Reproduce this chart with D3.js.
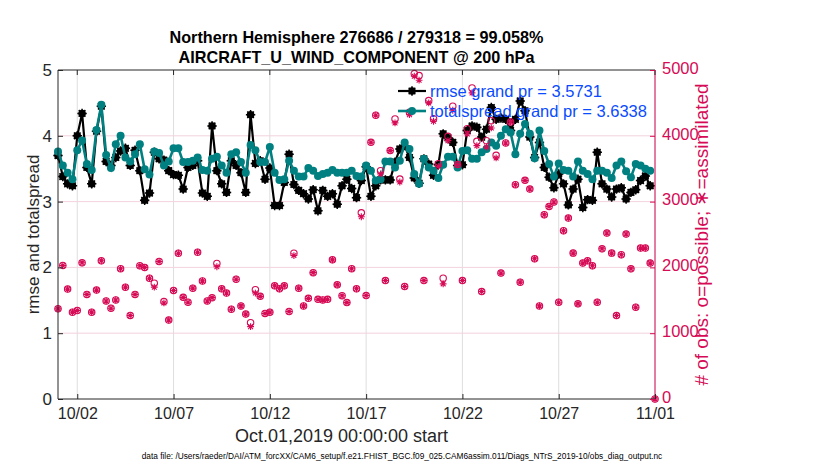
<!DOCTYPE html>
<html>
<head>
<meta charset="utf-8">
<script src="https://cdn.jsdelivr.net/npm/d3@7"></script>
<style>
  body { margin: 0; background: #fff; }
  text { font-family: "Liberation Sans", Arial, Helvetica, sans-serif; }
</style>
</head>
<body>
<div id="wrapper"></div>
<script>
/* global d3 */
// 6-hourly bins starting Oct.01,2019 00Z
const startDate = "2019-10-01T00:00:00Z";

const rmse = [
  3.70, 3.38, 3.27, 3.24, 4.00, 4.34, 3.52, 3.27, 4.07, 4.45, 3.61, 3.55, 3.67, 3.77, 3.81, 3.55,
  3.78, 3.47, 3.02, 3.13, 3.75, 3.65, 3.63, 3.47, 3.41, 3.40, 3.19, 3.52, 3.55, 3.62, 3.13, 3.08,
  4.15, 3.47, 3.27, 3.14, 3.62, 3.55, 3.44, 3.14, 4.32, 3.58, 3.62, 3.34, 3.51, 2.94, 2.94, 3.29,
  3.72, 3.26, 3.17, 3.12, 3.04, 3.18, 2.86, 3.17, 3.08, 3.12, 2.96, 3.24, 3.34, 3.20, 3.06, 3.32,
  3.53, 3.08, 3.24, 3.33, 3.33, 3.33, 3.60, 3.80, 3.85, 3.67, 3.36, 3.28, 3.65, 3.57, 3.40, 3.56,
  4.03, 3.97, 3.90, 3.55, 3.56, 4.08, 4.15, 4.13, 3.98, 4.10, 4.43, 4.25, 4.27, 4.25, 4.08, 4.25,
  4.53, 4.38, 3.98, 3.67, 3.90, 3.52, 3.37, 3.21, 3.42, 3.27, 2.95, 3.19, 3.34, 2.91, 3.03, 3.02,
  3.75, 3.27, 3.19, 3.07, 3.19, 3.21, 3.04, 3.14, 3.18, 3.32, 3.39, 3.24
];

const totalspread = [
  3.76, 3.55, 3.44, 3.34, 3.78, 3.93, 3.57, 3.48, 4.09, 4.47, 3.71, 3.51, 3.87, 4.00, 3.67, 3.61,
  3.72, 3.87, 3.49, 3.41, 3.76, 3.74, 3.55, 3.61, 3.81, 3.81, 3.60, 3.60, 3.62, 3.67, 3.48, 3.47,
  3.65, 3.68, 3.55, 3.44, 3.72, 3.75, 3.60, 3.44, 3.86, 3.78, 3.60, 3.60, 3.83, 3.44, 3.33, 3.34,
  3.62, 3.47, 3.38, 3.38, 3.51, 3.47, 3.39, 3.42, 3.44, 3.48, 3.44, 3.44, 3.44, 3.47, 3.39, 3.38,
  3.55, 3.47, 3.32, 3.34, 3.61, 3.61, 3.52, 3.62, 3.90, 3.80, 3.42, 3.27, 3.65, 3.52, 3.47, 3.36,
  3.56, 3.68, 3.68, 3.52, 3.77, 3.78, 3.65, 3.65, 3.75, 3.80, 3.90, 3.85, 4.00, 4.10, 4.05, 3.72,
  4.03, 4.18, 4.03, 3.66, 4.08, 3.77, 3.57, 3.38, 3.58, 3.48, 3.47, 3.38, 3.61, 3.47, 3.42, 3.34,
  3.47, 3.47, 3.44, 3.36, 3.55, 3.61, 3.46, 3.37, 3.57, 3.55, 3.50, 3.47
];

const obsPossible = [
  1370, 2030, 1670, 1320, 1345, 2070, 1590, 1320, 1655, 2100, 1490, 1380, 1505, 1980, 1700, 1270,
  1590, 2025, 2000, 1835, 1760, 2090, 1480, 1200, 1650, 2215, 1545, 1470, 1685, 2230, 1795, 1490,
  1540, 2060, 1675, 1610, 1365, 1820, 1415, 1290, 1160, 1660, 1560, 1300, 1320, 1720, 1675, 1720,
  1330, 2215, 1685, 1415, 1530, 1920, 1515, 1505, 1515, 2115, 1735, 1570, 1465, 1980, 1675, 2830,
  1572, 3901, 4312, 3470, 1800, 3775, 4257, 3343, 1710, 4358, 4946, 4915, 1800, 4535, 4261, 3576,
  1836, 3992, 4449, 3562, 1800, 4109, 4728, 3916, 1633, 3926, 4230, 3703, 1913, 3891, 4211, 3257,
  1776, 3323, 3191, 2131, 1415, 2800, 2927, 2994, 1471, 2557, 2750, 2217, 1446, 2065, 2100, 2024,
  1471, 2283, 2522, 2217, 1268, 2192, 2507, 1979, 1395, 2293, 2293, 2065, 0
];

const obsAssimilated = [
  1370, 2030, 1670, 1320, 1345, 2070, 1590, 1320, 1655, 2100, 1490, 1380, 1505, 1980, 1700, 1270,
  1590, 2025, 2000, 1835, 1700, 2090, 1460, 1200, 1650, 2215, 1545, 1470, 1685, 2230, 1795, 1490,
  1540, 2010, 1675, 1610, 1365, 1820, 1415, 1290, 1100, 1610, 1560, 1300, 1320, 1720, 1675, 1720,
  1330, 2180, 1685, 1415, 1530, 1920, 1515, 1505, 1515, 2115, 1735, 1570, 1465, 1980, 1675, 2770,
  1572, 3901, 4312, 3420, 1800, 3775, 4196, 3298, 1710, 4322, 4906, 4845, 1800, 4500, 4221, 3536,
  1750, 3926, 4388, 3562, 1800, 4028, 4652, 3850, 1633, 3830, 4119, 3663, 1913, 3891, 4211, 3257,
  1776, 3323, 3191, 2131, 1415, 2800, 2927, 2994, 1471, 2557, 2750, 2217, 1446, 2065, 2100, 2024,
  1471, 2283, 2522, 2217, 1268, 2192, 2507, 1979, 1395, 2293, 2293, 2065, 0
];

const xTickDays = ["2019-10-02", "2019-10-07", "2019-10-12", "2019-10-17", "2019-10-22", "2019-10-27", "2019-11-01"];
const xTickLabels = ["10/02", "10/07", "10/12", "10/17", "10/22", "10/27", "11/01"];
const leftTicks = [0, 1, 2, 3, 4, 5];
const rightTicks = [0, 1000, 2000, 3000, 4000, 5000];
const legendLabels = ["rmse grand pr = 3.5731", "totalspread grand pr = 3.6338"];

const titleLines = ["Northern Hemisphere 276686 / 279318 = 99.058%", "AIRCRAFT_U_WIND_COMPONENT @ 200 hPa"];
const dataFileText = "data file: /Users/raeder/DAI/ATM_forcXX/CAM6_setup/f.e21.FHIST_BGC.f09_025.CAM6assim.011/Diags_NTrS_2019-10/obs_diag_output.nc";

const dimensions = {
  width: 830,
  height: 470,
  margin: { top: 70, right: 175, bottom: 71, left: 58 },
};
dimensions.boundedWidth = dimensions.width - dimensions.margin.left - dimensions.margin.right;
dimensions.boundedHeight = dimensions.height - dimensions.margin.top - dimensions.margin.bottom;

const rmseColor = "#000000";
const spreadColor = "#008080";
const obsColor = "#d60a55";
const legendColor = "#0a4bff";
const axisColor = "#262626";

const t0 = new Date(startDate);
const timeAt = (i) => d3.utcHour.offset(t0, 6 * i);

const svg = d3.select("#wrapper")
  .append("svg")
  .attr("width", dimensions.width)
  .attr("height", dimensions.height);

const bounds = svg.append("g")
  .attr("transform", `translate(${dimensions.margin.left},${dimensions.margin.top})`);

const xScale = d3.scaleUtc()
  .domain([t0, new Date("2019-11-01T00:00:00Z")])
  .range([0, dimensions.boundedWidth]);

const yScale = d3.scaleLinear()
  .domain([0, 5])
  .range([dimensions.boundedHeight, 0]);

const yObsScale = d3.scaleLinear()
  .domain([0, 5000])
  .range([dimensions.boundedHeight, 0]);

const xTicks = xTickDays.map((d) => new Date(d + "T00:00:00Z"));

// grid
bounds.append("g")
  .selectAll("line")
  .data(xTicks)
  .join("line")
  .attr("x1", (d) => xScale(d)).attr("x2", (d) => xScale(d))
  .attr("y1", 0).attr("y2", dimensions.boundedHeight)
  .attr("stroke", "#dedede").attr("stroke-width", 1);

bounds.append("g")
  .selectAll("line")
  .data(rightTicks.slice(1, -1))
  .join("line")
  .attr("x1", 0).attr("x2", dimensions.boundedWidth)
  .attr("y1", (d) => yObsScale(d)).attr("y2", (d) => yObsScale(d))
  .attr("stroke", "#f3d3de").attr("stroke-width", 1);

// lines
const lineGen = d3.line()
  .defined((d) => d != null)
  .x((d, i) => xScale(timeAt(i)))
  .y((d) => yScale(d));

const asteriskPath = (r) => {
  const a = r * Math.SQRT1_2;
  return `M${-r},0L${r},0M0,${-r}L0,${r}M${-a},${-a}L${a},${a}M${-a},${a}L${a},${-a}`;
};

const drawRmse = (g, cx, cy) => {
  g.append("circle").attr("cx", cx).attr("cy", cy).attr("r", 3.8).attr("fill", rmseColor);
  g.append("path").attr("d", asteriskPath(4.7))
    .attr("transform", `translate(${cx},${cy})`)
    .attr("stroke", rmseColor).attr("stroke-width", 1.5);
};

bounds.append("path")
  .datum(rmse)
  .attr("d", lineGen)
  .attr("fill", "none")
  .attr("stroke", rmseColor)
  .attr("stroke-width", 2.2);

const rmseMarks = bounds.append("g");
rmse.forEach((d, i) => drawRmse(rmseMarks, xScale(timeAt(i)), yScale(d)));

bounds.append("path")
  .datum(totalspread)
  .attr("d", lineGen)
  .attr("fill", "none")
  .attr("stroke", spreadColor)
  .attr("stroke-width", 2.6);

bounds.append("g")
  .selectAll("circle")
  .data(totalspread)
  .join("circle")
  .attr("cx", (d, i) => xScale(timeAt(i)))
  .attr("cy", (d) => yScale(d))
  .attr("r", 4)
  .attr("fill", spreadColor);

// obs counts (right axis)
bounds.append("g")
  .selectAll("circle")
  .data(obsPossible)
  .join("circle")
  .attr("cx", (d, i) => xScale(timeAt(i)))
  .attr("cy", (d) => yObsScale(d))
  .attr("r", 3.2)
  .attr("fill", "none")
  .attr("stroke", obsColor)
  .attr("stroke-width", 1.1);

bounds.append("g")
  .selectAll("path")
  .data(obsAssimilated)
  .join("path")
  .attr("d", asteriskPath(3.4))
  .attr("transform", (d, i) => `translate(${xScale(timeAt(i))},${yObsScale(d)})`)
  .attr("stroke", obsColor)
  .attr("stroke-width", 1.1);

// axes frame
const W = dimensions.boundedWidth, H = dimensions.boundedHeight;
bounds.append("line").attr("x1", 0).attr("x2", W).attr("y1", 0).attr("y2", 0).attr("stroke", axisColor);
bounds.append("line").attr("x1", 0).attr("x2", W).attr("y1", H).attr("y2", H).attr("stroke", axisColor);
bounds.append("line").attr("x1", 0).attr("x2", 0).attr("y1", 0).attr("y2", H).attr("stroke", axisColor);
bounds.append("line").attr("x1", W).attr("x2", W).attr("y1", 0).attr("y2", H).attr("stroke", obsColor);

// x axis
const xAxisGenerator = d3.axisBottom(xScale)
  .tickValues(xTicks)
  .tickSize(-5)
  .tickFormat((d, i) => xTickLabels[i]);

const xAxis = bounds.append("g")
  .attr("transform", `translate(0,${H})`)
  .call(xAxisGenerator);
xAxis.select(".domain").remove();
xAxis.selectAll("line").attr("stroke", axisColor);
xAxis.selectAll("text")
  .attr("y", 9)
  .attr("fill", axisColor)
  .style("font-size", "16px");

bounds.append("g")
  .selectAll("line")
  .data(xTicks)
  .join("line")
  .attr("x1", (d) => xScale(d)).attr("x2", (d) => xScale(d))
  .attr("y1", 0).attr("y2", 5)
  .attr("stroke", axisColor);

// left axis
const yAxisGenerator = d3.axisLeft(yScale)
  .tickValues(leftTicks)
  .tickSize(-5)
  .tickFormat(d3.format("d"));
const yAxis = bounds.append("g").call(yAxisGenerator);
yAxis.select(".domain").remove();
yAxis.selectAll("line").attr("stroke", axisColor);
yAxis.selectAll("text")
  .attr("x", -6)
  .attr("fill", axisColor)
  .style("font-size", "17px");

// right axis
const yObsAxisGenerator = d3.axisRight(yObsScale)
  .tickValues(rightTicks)
  .tickSize(-5)
  .tickFormat(d3.format("d"));
const yObsAxis = bounds.append("g")
  .attr("transform", `translate(${W},0)`)
  .call(yObsAxisGenerator);
yObsAxis.select(".domain").remove();
yObsAxis.selectAll("line").attr("stroke", obsColor);
yObsAxis.selectAll("text")
  .attr("x", 7)
  .attr("dy", "0.2em")
  .attr("fill", obsColor)
  .style("font-size", "16.5px");

// axis labels
bounds.append("text")
  .attr("transform", `translate(-19,${H / 2}) rotate(-90)`)
  .attr("text-anchor", "middle")
  .attr("fill", axisColor)
  .style("font-size", "17px")
  .text("rmse and totalspread");

bounds.append("text")
  .attr("transform", `translate(${W + 53},${H / 2}) rotate(-90)`)
  .attr("text-anchor", "middle")
  .attr("fill", obsColor)
  .style("font-size", "19px")
  .text("# of obs: o=possible; \u2217=assimilated");

bounds.append("text")
  .attr("x", W / 2 - 15)
  .attr("y", H + 43)
  .attr("text-anchor", "middle")
  .attr("fill", axisColor)
  .style("font-size", "18px")
  .text("Oct.01,2019 00:00:00 start");

// title
svg.append("g")
  .selectAll("text")
  .data(titleLines)
  .join("text")
  .attr("x", dimensions.margin.left + W / 2)
  .attr("y", (d, i) => 43 + i * 20)
  .attr("text-anchor", "middle")
  .attr("fill", "#000")
  .style("font-size", "16.2px")
  .style("font-weight", "bold")
  .text((d) => d);

// data file note
svg.append("text")
  .attr("x", 402)
  .attr("y", 459)
  .attr("text-anchor", "middle")
  .attr("fill", "#000")
  .style("font-size", "8.3px")
  .text(dataFileText);

// legend
const legend = bounds.append("g").attr("transform", "translate(340,21)");
const legendRows = legend.selectAll("g")
  .data(legendLabels)
  .join("g")
  .attr("transform", (d, i) => `translate(0,${i * 20})`);

legendRows.append("line")
  .attr("x1", 0).attr("x2", 28)
  .attr("stroke", (d, i) => (i === 0 ? rmseColor : spreadColor))
  .attr("stroke-width", (d, i) => (i === 0 ? 2.2 : 2.6));

legendRows.each(function (d, i) {
  const g = d3.select(this);
  if (i === 0) {
    drawRmse(g, 14, 0);
  } else {
    g.append("circle").attr("cx", 14).attr("cy", 0).attr("r", 4).attr("fill", spreadColor);
  }
});

legendRows.append("text")
  .attr("x", 32)
  .attr("y", 6)
  .attr("fill", legendColor)
  .style("font-size", "16.5px")
  .text((d) => d);
</script>
</body>
</html>
